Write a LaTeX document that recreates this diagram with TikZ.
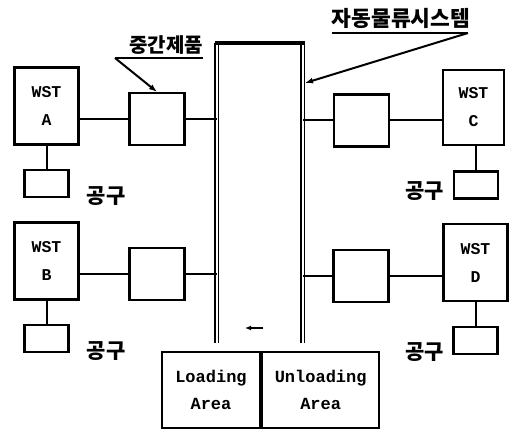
\documentclass[tikz,border=0pt]{standalone}
\usepackage{fontspec}
\setmonofont{Liberation Mono}
\newfontfamily\kofont{Noto Sans CJK KR}
\usetikzlibrary{arrows.meta,positioning}

\begin{document}
\begin{tikzpicture}[x=1pt, y=-1pt,
	wst/.style={draw, line width=2.2pt, minimum width=64pt, minimum height=77pt, inner sep=0pt, align=center, font=\ttfamily\bfseries\fontsize{16.5}{28}\selectfont},
	buf/.style={draw, line width=2.2pt, minimum width=55pt, minimum height=52pt, inner sep=0pt},
	tool/.style={draw, line width=2.2pt, minimum width=44pt, minimum height=27pt, inner sep=0pt},
	area/.style={draw, line width=2.2pt, minimum height=76pt, inner sep=0pt, align=center, font=\ttfamily\bfseries\fontsize{17}{27}\selectfont},
	ko/.style={inner sep=0pt, font=\kofont\bfseries\fontsize{21}{21}\selectfont},
	link/.style={line width=2pt},
	rail/.style={double, double distance=2pt, line width=1.7pt}]
	\useasboundingbox (0,0) rectangle (512,433);

	% work stations
	\node[wst] (wstA) at (46.5,106) {WST\\A};
	\node[wst] (wstB) at (46.5,261) {WST\\B};
	\node[wst, minimum width=61pt, minimum height=75pt] (wstC) at (473.5,107.5) {WST\\C};
	\node[wst] (wstD) at (475.5,262.5) {WST\\D};

	% intermediate buffers
	\node[buf] (bufA) at (157,119) {};
	\node[buf] (bufB) at (157,274) {};
	\node[buf] (bufC) at (361.5,120.5) {};
	\node[buf] (bufD) at (361,276) {};

	% tools
	\node[tool] (toolA) at (46.5,183.5) {};
	\node[tool] (toolB) at (46.5,338.5) {};
	\node[tool] (toolC) at (476,185) {};
	\node[tool] (toolD) at (475.5,340.5) {};

	\node[ko] (gongA) at (106,196) {공구};
	\node[ko] (gongB) at (106,351) {공구};
	\node[ko] (gongC) at (424.5,191) {공구};
	\node[ko] (gongD) at (424.5,352) {공구};

	% conveyor
	\coordinate (railL) at (216.5,343);
	\coordinate (railR) at (302.5,343);
	\draw[rail] (railL) -- (216.5,43);
	\draw[rail] (railR) -- (302.5,43);
	\draw[line width=3.5pt] (214.5,43) -- (304.5,43);
	\coordinate (flowR) at (263,328);
	\coordinate (flowL) at (245,328);
	\draw[-{Latex[length=6pt,width=5pt]}, line width=1.3pt] (flowR) -- (flowL);

	% loading / unloading
	\node[area, minimum width=98pt] (load) at (211,390) {Loading\\Area};
	\node[area, minimum width=117pt, right=0pt of load] (unload) {Unloading\\Area};

	% links
	\draw[link] (bufA.west -| wstA.east) -- (bufA.west);
	\draw[link] (bufA.east) -- (bufA.east -| railL);
	\draw[link] (bufB.west -| wstB.east) -- (bufB.west);
	\draw[link] (bufB.east) -- (bufB.east -| railL);
	\draw[link] (bufC.west) -- (bufC.west -| railR);
	\draw[link] (bufC.east) -- (bufC.east -| wstC.west);
	\draw[link] (bufD.west) -- (bufD.west -| railR);
	\draw[link] (bufD.east) -- (bufD.east -| wstD.west);
	\draw[link] (wstA.south) -- (toolA.north);
	\draw[link] (wstB.south) -- (toolB.north);
	\draw[link] (wstC.south -| toolC.north) -- (toolC.north);
	\draw[link] (wstD.south -| toolD.north) -- (toolD.north);

	% labels
	\node[ko, font=\kofont\bfseries\fontsize{20}{20}\selectfont] (labMid) at (166,45) {중간제품};
	\coordinate (midTail) at (115,58);
	\draw[link] (midTail) -- (midTail -| labMid.east);
	\draw[link, -{Latex[length=8pt,width=6pt]}] (midTail) -- (bufA.north);

	\node[ko, font=\kofont\bfseries\fontsize{21.5}{21.5}\selectfont] (labAgv) at (401,18) {자동물류시스템};
	\coordinate (agvTail) at (468,33);
	\coordinate (agvHit) at (305,83);
	\draw[link] (labAgv.west |- agvTail) -- (agvTail);
	\draw[link, -{Latex[length=8pt,width=6pt]}] (agvTail) -- (agvHit);
\end{tikzpicture}
\end{document}
